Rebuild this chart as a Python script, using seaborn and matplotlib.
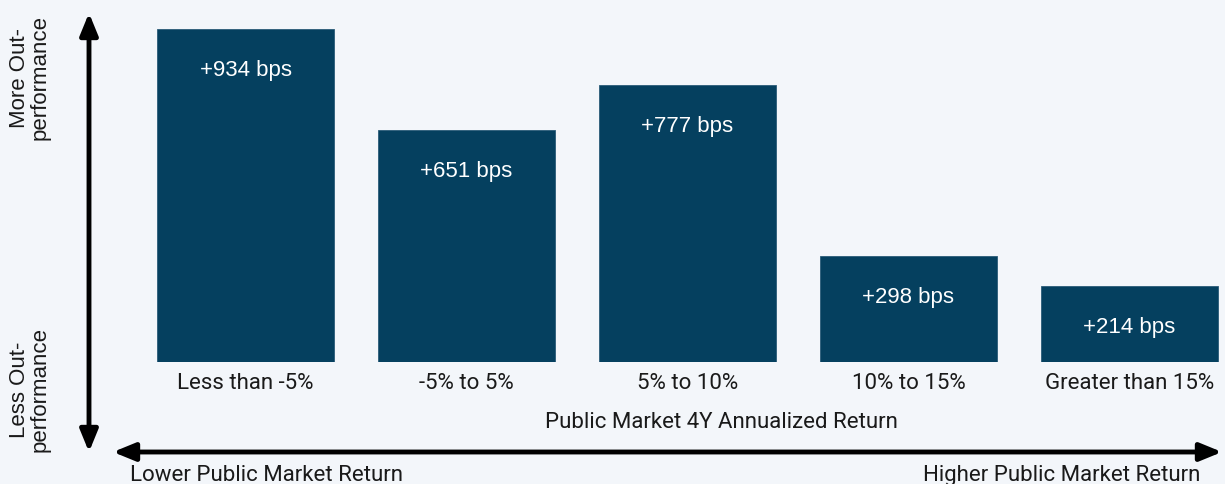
import matplotlib
matplotlib.use("Agg")
import matplotlib.pyplot as plt
import seaborn as sns
import pandas as pd

categories = ["Less than -5%", "-5% to 5%", "5% to 10%", "10% to 15%", "Greater than 15%"]
values = [934, 651, 777, 298, 214]
bar_labels = ["+934 bps", "+651 bps", "+777 bps", "+298 bps", "+214 bps"]
x_title = "Public Market 4Y Annualized Return"

BG = "#f3f6fa"
BAR = "#05405f"

sns.set_theme(style="white")
plt.rcParams["font.family"] = ["Roboto", "DejaVu Sans"]

W, H = 1225, 485
fig = plt.figure(figsize=(W / 100, H / 100), dpi=100, facecolor=BG)

ax_left, ax_right = 135, 1225
ax_top, ax_bottom = 10, 363
ax = fig.add_axes([ax_left / W, 1 - ax_bottom / H, (ax_right - ax_left) / W, (ax_bottom - ax_top) / H])
ax.set_facecolor(BG)

df = pd.DataFrame({"cat": categories, "val": values})
sns.barplot(data=df, x="cat", y="val", order=categories, color=BAR, width=0.8,
            saturation=1, ax=ax, edgecolor="#2a5b78", linewidth=0.6)

px_per_unit = (363 - 30) / 934.0
ax.set_ylim(0, (ax_bottom - ax_top) / px_per_unit)
ax.set_xlim(-0.5, -0.5 + (ax_right - ax_left) / 221.0)

for i, (v, lab) in enumerate(zip(values, bar_labels)):
    ax.annotate(lab, (i, v), xytext=(0, -41), textcoords="offset pixels",
                ha="center", va="center", color="white", fontsize=16,
                family=["Liberation Sans", "DejaVu Sans"])

ax.set_xlabel(x_title, fontsize=16, color="#1a1a1a")
ax.xaxis.set_label_coords((721 - ax_left) / (ax_right - ax_left), -(423 - ax_bottom) / (ax_bottom - ax_top))
ax.xaxis.label.set_va("center")
ax.set_ylabel("")
ax.set_yticks([])
ax.tick_params(axis="x", length=0, pad=7, labelsize=16, labelcolor="#1a1a1a")
for s in ax.spines.values():
    s.set_visible(False)

ov = fig.add_axes([0, 0, 1, 1], facecolor="none")
ov.set_xlim(0, W)
ov.set_ylim(H, 0)
ov.axis("off")

arrow_kw = dict(arrowstyle="<|-|>,head_length=1.1,head_width=0.45", color="black", lw=3.5,
                shrinkA=0, shrinkB=0, mutation_scale=12)
ov.annotate("", xy=(89, 14), xytext=(89, 453), arrowprops=arrow_kw)
ov.annotate("", xy=(1222, 453), xytext=(113, 453), arrowprops=arrow_kw)

side_font = ["Liberation Sans", "DejaVu Sans"]
ov.text(30, 78, "More Out-\nperformance", rotation=90, ha="center", va="center",
        fontsize=16, color="#1a1a1a", family=side_font, linespacing=0.95)
ov.text(30, 390, "Less Out-\nperformance", rotation=90, ha="center", va="center",
        fontsize=16, color="#1a1a1a", family=side_font, linespacing=0.95)

ov.text(130, 476, "Lower Public Market Return", ha="left", va="center",
        fontsize=16, color="#1a1a1a")
ov.text(1200, 476, "Higher Public Market Return", ha="right", va="center",
        fontsize=16, color="#1a1a1a")

fig.savefig("out.png", dpi=100, facecolor=BG)
